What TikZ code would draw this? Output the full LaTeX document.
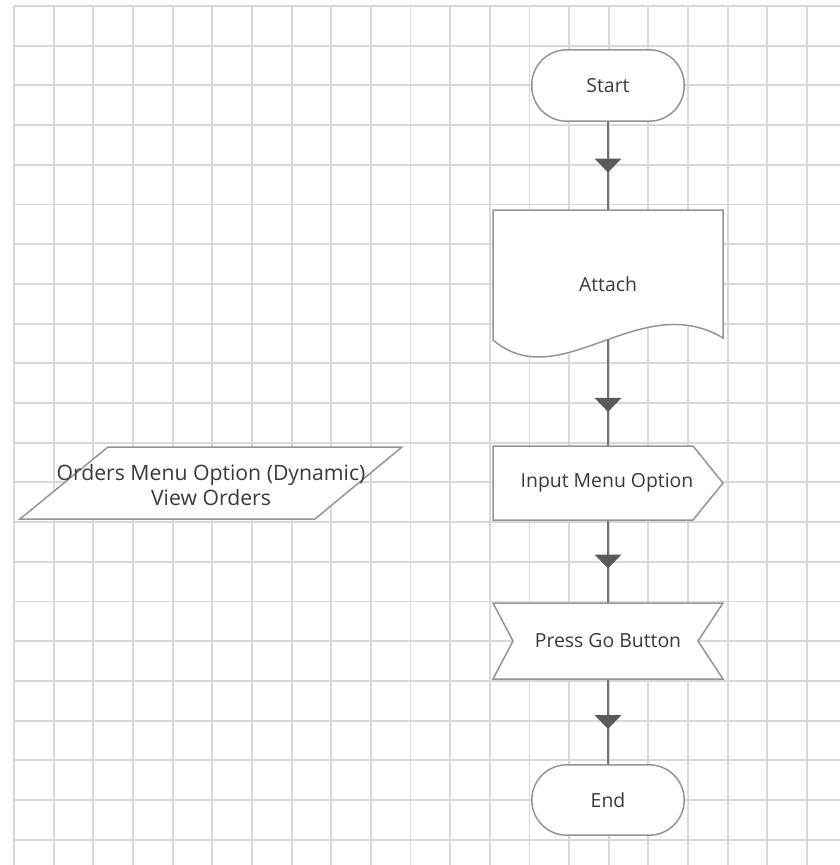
\documentclass[tikz,border=0pt]{standalone}
\usepackage{fontspec}
\setmainfont{Open Sans}
\usetikzlibrary{arrows.meta,decorations.markings}
\definecolor{gridc}{HTML}{D8D8D8}
\definecolor{edgec}{HTML}{959595}
\definecolor{linec}{HTML}{737373}
\definecolor{tipc}{HTML}{5A5A5A}
\definecolor{txtc}{HTML}{3A3A3A}
\begin{document}
\begin{tikzpicture}[x=1pt,y=-1pt,
  gridline/.style={gridc,line width=1.9pt},
  shapeline/.style={draw=edgec,fill=white,line width=1.5pt},
  txt/.style={text=txtc,font=\fontsize{19.4}{23}\selectfont,inner sep=0pt},
  flow/.style={draw=linec,line width=1.9pt,postaction={decorate},
    decoration={markings,mark=at position #1 with
      {\fill[tipc] (7pt,0pt) -- (-7pt,13.5pt) -- (-7pt,-13.5pt) -- cycle;}}},
  flow/.default=0.5]
\useasboundingbox (0,0) rectangle (840,865);
\fill[white] (0,0) rectangle (840,865);
% grid
\foreach \i in {0,...,20}
  \draw[gridline] ({14+39.65*\i},6) -- ({14+39.65*\i},865);
\foreach \j in {0,...,21}
  \draw[gridline] (14,{6+39.7*\j}) -- (840,{6+39.7*\j});
% node boxes
\node[txt,minimum width=152pt,minimum height=71pt] (start) at (608,85.5) {};
\node[txt,minimum width=230pt,minimum height=148pt] (attach) at (608,284) {};
\node[txt,minimum width=230pt,minimum height=74pt] (input) at (608,483) {};
\node[txt,minimum width=230pt,minimum height=76pt] (press) at (608,641) {};
\node[txt,minimum width=152pt,minimum height=70pt] (end) at (608,800) {};
% connectors
\draw[flow] (start.south) -- (attach.north);
\draw[flow=0.747] (attach.center) -- (input.north);
\draw[flow] (input.south) -- (press.north);
\draw[flow] (press.south) -- (end.north);
% shapes
\draw[shapeline,rounded corners=35pt] (start.north west) rectangle (start.south east);
\draw[shapeline] (493,210) -- (723,210) -- (723,338)
  .. controls (640,288) and (560,397) .. (493,340) -- cycle;
\draw[shapeline] (493,446) -- (693,446) -- (723,483) -- (693,520) -- (493,520) -- cycle;
\draw[shapeline] (493,603) -- (723,603) -- (698,641) -- (723,679) -- (493,679) -- (513,641) -- cycle;
\draw[shapeline,rounded corners=35pt] (end.north west) rectangle (end.south east);
\draw[shapeline] (108,447) -- (402,447) -- (315,519) -- (20,519) -- cycle;
% labels
\node[txt] (startl) at (start.center) {Start};
\node[txt] (attachl) at (attach.center) {Attach};
\node[txt] (inputl) at (607,483) {Input Menu Option};
\node[txt] (pressl) at (press.center) {Press Go Button};
\node[txt] (endl) at (end.center) {End};
\node[txt,font=\fontsize{21.2}{25}\selectfont,align=center] (orders) at (211,485)
  {Orders Menu Option (Dynamic)\\View Orders};
\end{tikzpicture}
\end{document}
